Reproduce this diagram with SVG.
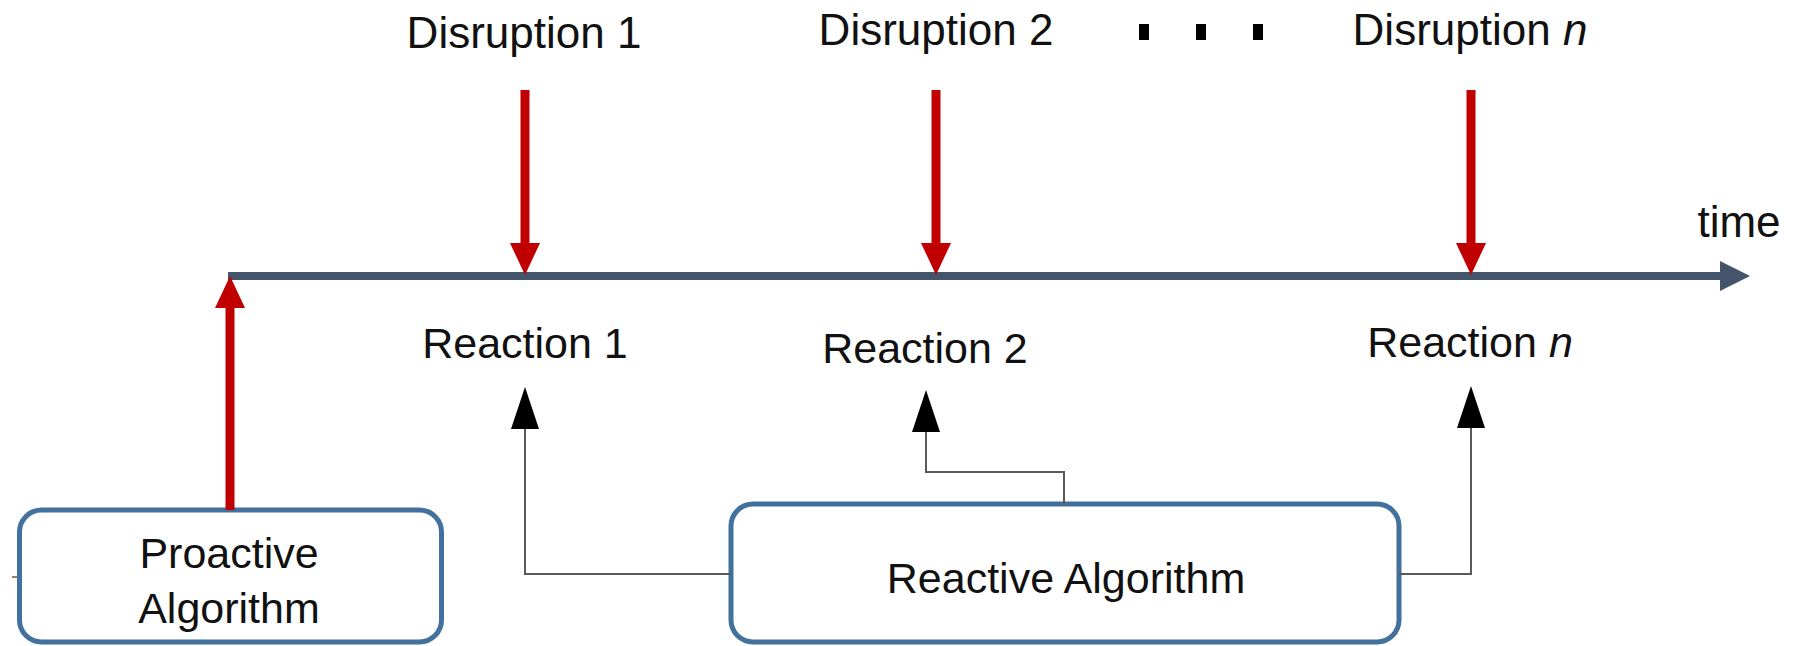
<svg xmlns="http://www.w3.org/2000/svg" width="1796" height="646" viewBox="0 0 1796 646">
  <style>
    .lbl { font-family: "Liberation Sans", Arial, sans-serif; font-size: 43px; fill: #111; text-anchor: middle; }
    .top { font-size: 44px; }
    .box { fill: #fff; stroke: #41719C; stroke-width: 5; }
    .axis { stroke: #44546A; stroke-width: 8; fill: none; }
    .red { stroke: #C00000; stroke-width: 9; fill: none; }
    .link { stroke: #5a5a5a; stroke-width: 2; fill: none; }
    .dot { fill: #000; }
  </style>
  <defs>
    <marker id="headAxis" markerUnits="userSpaceOnUse" viewBox="0 0 30 30" refX="0" refY="15" markerWidth="30" markerHeight="30" orient="auto">
      <path d="M0,0 L30,15 L0,30 Z" fill="#44546A"/>
    </marker>
    <marker id="headRed" markerUnits="userSpaceOnUse" viewBox="0 0 32 30" refX="0" refY="15" markerWidth="32" markerHeight="30" orient="auto">
      <path d="M0,0 L32,15 L0,30 Z" fill="#C00000"/>
    </marker>
    <marker id="headBlack" markerUnits="userSpaceOnUse" viewBox="0 0 42 28" refX="0" refY="14" markerWidth="42" markerHeight="28" orient="auto">
      <path d="M0,0 L42,14 L0,28 Z" fill="#000"/>
    </marker>
  </defs>

  <!-- time axis -->
  <g id="timeline">
    <line class="axis" x1="228" y1="276" x2="1720" y2="276" marker-end="url(#headAxis)"/>
    <text class="lbl top" x="1739" y="237">time</text>
  </g>

  <!-- disruption events -->
  <g id="disruption1">
    <text class="lbl top" x="524" y="48">Disruption 1</text>
  </g>
  <g id="disruption2">
    <text class="lbl top" x="936" y="45">Disruption 2</text>
  </g>
  <g id="ellipsis">
    <rect class="dot" x="1139" y="24" width="10" height="16"/>
    <rect class="dot" x="1196" y="24" width="10" height="16"/>
    <rect class="dot" x="1253" y="24" width="10" height="16"/>
  </g>
  <g id="disruptionN">
    <text class="lbl top" x="1470" y="45">Disruption <tspan font-style="italic">n</tspan></text>
  </g>

  <!-- reactions -->
  <g id="reaction1">
    <text class="lbl" x="525" y="358">Reaction 1</text>
  </g>
  <g id="reaction2">
    <text class="lbl" x="925" y="363">Reaction 2</text>
  </g>
  <g id="reactionN">
    <text class="lbl" x="1470" y="357">Reaction <tspan font-style="italic">n</tspan></text>
  </g>

  <!-- algorithms -->
  <g id="proactive">
    <rect class="box" x="19.5" y="510" width="422" height="132" rx="22"/>
    <line x1="12" y1="577" x2="17" y2="577" stroke="#9c7a5a" stroke-width="2"/>
    <text class="lbl" x="229" y="568">Proactive</text>
    <text class="lbl" x="229" y="623">Algorithm</text>
  </g>
  <g id="reactive">
    <rect class="box" x="731" y="504" width="668" height="138" rx="22"/>
    <text class="lbl" x="1066" y="593">Reactive Algorithm</text>
  </g>

  <!-- connectors -->
  <g id="connectors">
    <line class="red" x1="525" y1="90" x2="525" y2="243" marker-end="url(#headRed)"/>
    <line class="red" x1="936" y1="90" x2="936" y2="243" marker-end="url(#headRed)"/>
    <line class="red" x1="1471" y1="90" x2="1471" y2="243" marker-end="url(#headRed)"/>
    <line class="red" x1="230" y1="510" x2="230" y2="308" marker-end="url(#headRed)"/>
    <path class="link" d="M731,574 H525 V429" marker-end="url(#headBlack)"/>
    <path class="link" d="M1064,504 V472 H926 V432" marker-end="url(#headBlack)"/>
    <path class="link" d="M1399,574 H1471 V428" marker-end="url(#headBlack)"/>
  </g>
</svg>
